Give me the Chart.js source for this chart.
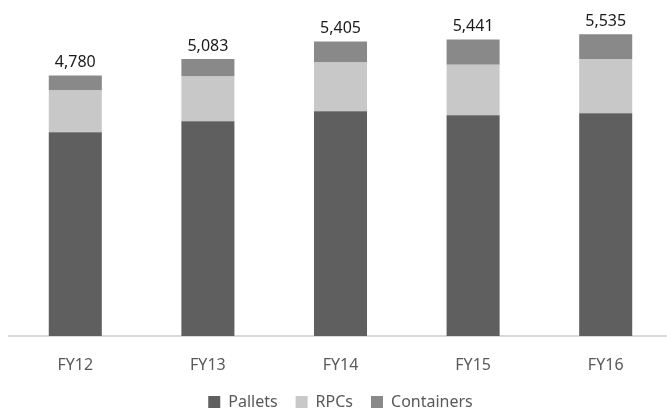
<!DOCTYPE html>
<html>
<head>
<meta charset="utf-8">
<script src="https://cdn.jsdelivr.net/npm/chart.js@4/dist/chart.umd.min.js"></script>
<style>
  html, body { margin: 0; padding: 0; background: #fff; overflow: hidden; }
  #wrap { width: 672px; height: 420px; }
</style>
</head>
<body>
<div id="wrap"><canvas id="volumeChart"></canvas></div>
<script>
// Values
const years = ['FY12', 'FY13', 'FY14', 'FY15', 'FY16'];
const pallets = [3740, 3940, 4122, 4050, 4087];
const rpcs = [765, 820, 898, 928, 995];
const containers = [275, 323, 385, 463, 453];
const totals = [4780, 5083, 5405, 5441, 5535];

// Draw the total above each stack
const totalLabels = {
  id: 'totalLabels',
  afterDatasetsDraw(chart) {
    const ctx = chart.ctx;
    const meta = chart.getDatasetMeta(2);
    ctx.save();
    ctx.font = '16px "Noto Sans"';
    ctx.fillStyle = '#1a1a1a';
    ctx.textAlign = 'center';
    ctx.textBaseline = 'bottom';
    meta.data.forEach((bar, i) => {
      ctx.fillText(totals[i].toLocaleString('en-US'), bar.x, bar.y - 5);
    });
    ctx.restore();
  }
};

const ctx = document.getElementById('volumeChart').getContext('2d');
const volumeChart = new Chart(ctx, {
  type: 'bar',
  data: {
    labels: years,
    datasets: [
      { label: 'Pallets', data: pallets, backgroundColor: '#5f5f5f' },
      { label: 'RPCs', data: rpcs, backgroundColor: '#c8c8c8' },
      { label: 'Containers', data: containers, backgroundColor: '#898989' }
    ]
  },
  options: {
    responsive: true,
    maintainAspectRatio: false,
    animation: false,
    layout: { padding: { top: 9, left: 9, right: 0, bottom: 0 } },
    datasets: { bar: { barPercentage: 0.4, categoryPercentage: 1.0 } },
    scales: {
      x: {
        stacked: true,
        grid: { display: false, drawTicks: false },
        border: { display: true, color: '#d9d9d9', width: 2 },
        ticks: {
          color: '#595959',
          font: { family: 'Noto Sans', size: 16 },
          padding: 20
        },
        // fixed band height: tick padding + one line of label text
        afterFit(scale) { scale.height = 40; }
      },
      y: {
        stacked: true,
        display: false,
        min: 0,
        max: 6000
      }
    },
    plugins: {
      legend: {
        position: 'bottom',
        labels: {
          boxWidth: 12,
          boxHeight: 12,
          color: '#595959',
          font: { family: 'Noto Sans', size: 16 },
          padding: 18
        }
      },
      tooltip: { enabled: false }
    }
  },
  plugins: [totalLabels]
});
</script>
</body>
</html>
